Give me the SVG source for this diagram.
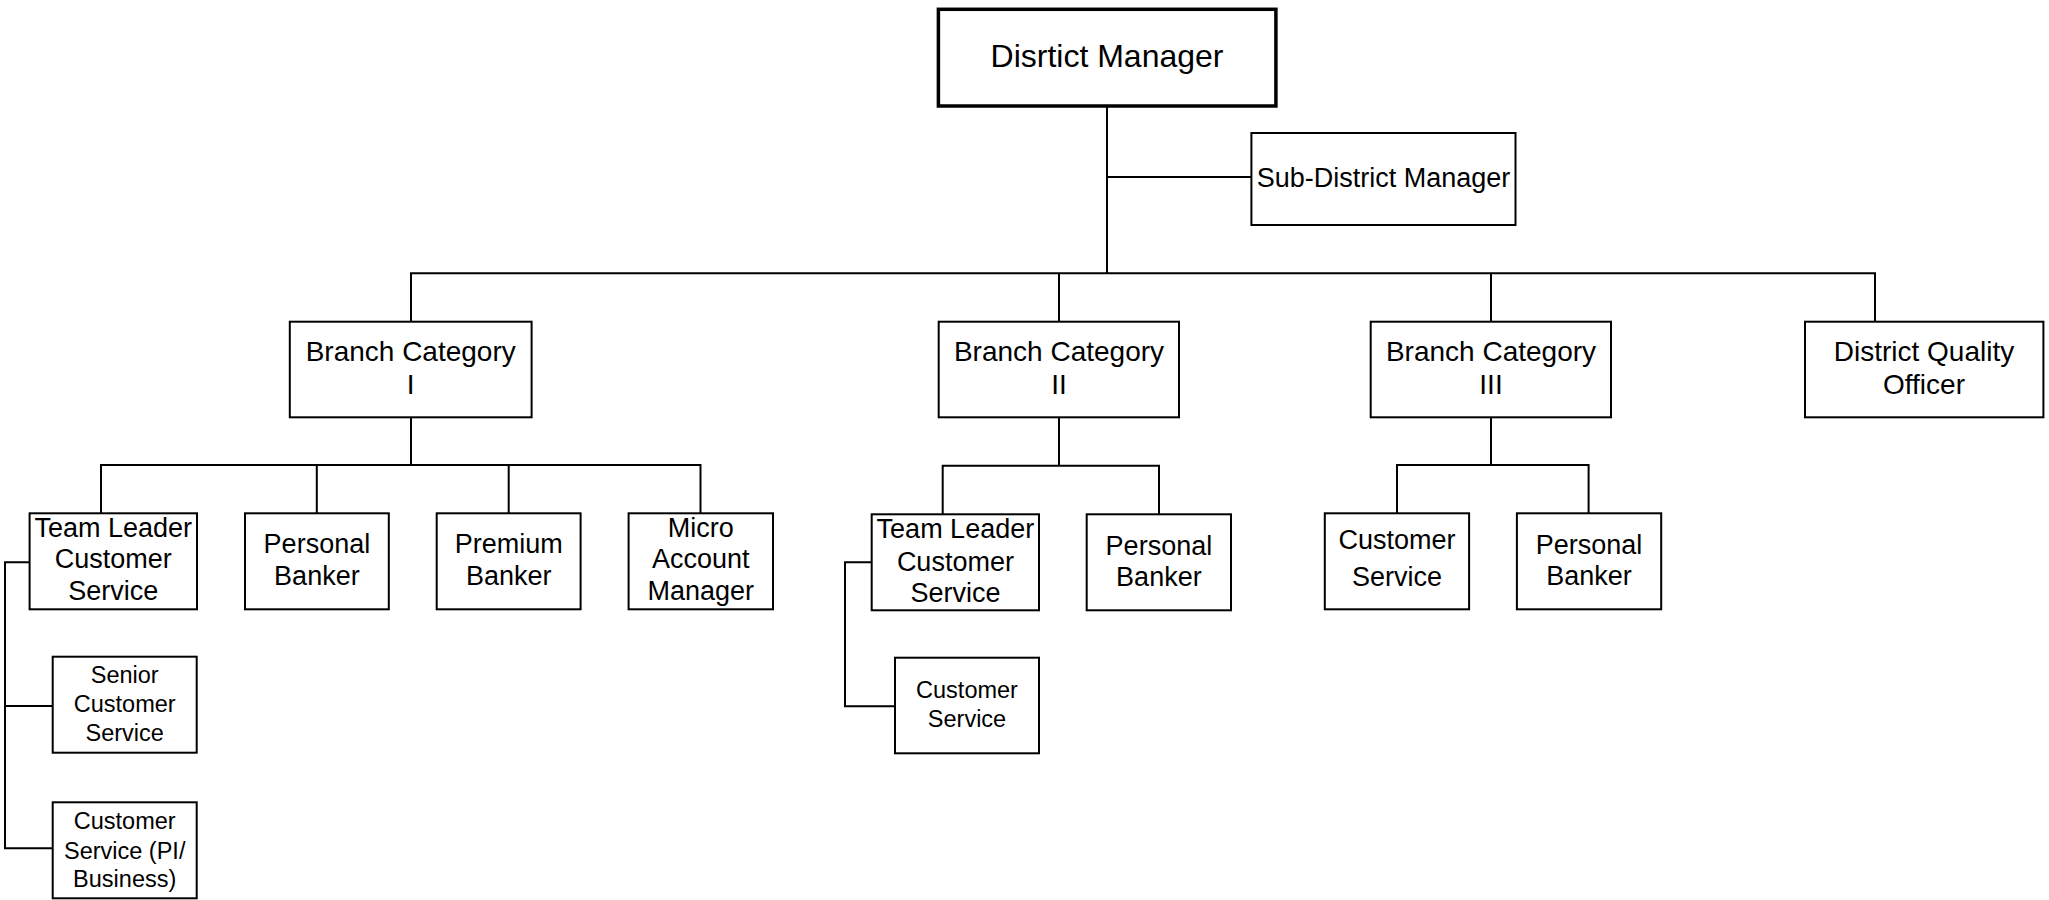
<svg xmlns="http://www.w3.org/2000/svg" width="2049" height="900" viewBox="0 0 2049 900">
<style>
rect{fill:#fff;stroke:#000;stroke-width:2}
rect.top{stroke-width:3.5}
text{font-family:"Liberation Sans",Arial,sans-serif;fill:#000;text-anchor:middle}
.f31{font-size:32px}.f27{font-size:28px}.f26{font-size:27px}.f23{font-size:23.5px}
#connectors path{fill:none;stroke:#000;stroke-width:2}
</style>
<rect x="0" y="0" width="2049" height="900" style="fill:#fff;stroke:none"/>
<g id="connectors">
<path d="M1107,106 V273.3 M1107,177 H1251.4"/>
<path d="M411,321.7 V273.3 H1875 V321.7 M1059,273.3 V321.7 M1491,273.3 V321.7"/>
<path d="M411,417.3 V465 M101,513.3 V465 H700.5 V513.3 M316.8,465 V513.3 M508.7,465 V513.3"/>
<path d="M1059,417.3 V465.7 M942.7,514.3 V465.7 H1159 V514.3"/>
<path d="M1491,417.3 V465 M1397,513.3 V465 H1588.6 V513.3"/>
<path d="M29.6,562.3 H5 V848.3 H52.7 M5,706 H52.7"/>
<path d="M871.7,562.3 H845 V706.3 H895"/>
</g>
<g id="district-manager"><rect class="top" x="938.4" y="9.3" width="337.5" height="96.7"/><text class="f31" x="1107" y="67">Disrtict Manager</text></g>
<g id="sub-district-manager"><rect x="1251.4" y="133" width="264.1" height="92"/><text class="f26" x="1383.5" y="187">Sub-District Manager</text></g>
<g id="branch-cat-1"><rect x="289.8" y="321.7" width="241.8" height="95.6"/><text class="f27" x="410.7" y="360.7">Branch Category</text><text class="f27" x="410.7" y="394.3">I</text></g>
<g id="branch-cat-2"><rect x="938.7" y="321.7" width="240.3" height="95.6"/><text class="f27" x="1059" y="360.7">Branch Category</text><text class="f27" x="1059" y="394.3">II</text></g>
<g id="branch-cat-3"><rect x="1370.7" y="321.7" width="240.3" height="95.6"/><text class="f27" x="1491" y="360.7">Branch Category</text><text class="f27" x="1491" y="394.3">III</text></g>
<g id="district-quality-officer"><rect x="1805" y="321.7" width="238.4" height="95.6"/><text class="f27" x="1924" y="360.7">District Quality</text><text class="f27" x="1924" y="394.3">Officer</text></g>
<g id="tl-cs-1"><rect x="29.6" y="513.3" width="167.4" height="96"/><text class="f26" x="113.3" y="536.7">Team Leader</text><text class="f26" x="113.3" y="568.3">Customer</text><text class="f26" x="113.3" y="600">Service</text></g>
<g id="personal-banker-1"><rect x="245" y="513.3" width="143.8" height="96"/><text class="f26" x="316.9" y="553.3">Personal</text><text class="f26" x="316.9" y="585">Banker</text></g>
<g id="premium-banker-1"><rect x="436.7" y="513.3" width="143.9" height="96"/><text class="f26" x="508.7" y="553.3">Premium</text><text class="f26" x="508.7" y="585">Banker</text></g>
<g id="micro-account-manager-1"><rect x="628.6" y="513.3" width="144.4" height="96"/><text class="f26" x="700.8" y="536.7">Micro</text><text class="f26" x="700.8" y="568.3">Account</text><text class="f26" x="700.8" y="600">Manager</text></g>
<g id="senior-cs-1"><rect x="52.7" y="656.7" width="144" height="96"/><text class="f23" x="124.7" y="683.3">Senior</text><text class="f23" x="124.7" y="712.3">Customer</text><text class="f23" x="124.7" y="740.7">Service</text></g>
<g id="cs-pi-business-1"><rect x="52.7" y="802.3" width="144" height="96"/><text class="f23" x="124.7" y="829.3">Customer</text><text class="f23" x="124.7" y="858.7">Service (PI/</text><text class="f23" x="124.7" y="887.3">Business)</text></g>
<g id="tl-cs-2"><rect x="871.7" y="514.3" width="167.3" height="96"/><text class="f26" x="955.4" y="538.3">Team Leader</text><text class="f26" x="955.4" y="570.7">Customer</text><text class="f26" x="955.4" y="601.7">Service</text></g>
<g id="personal-banker-2"><rect x="1086.7" y="514.3" width="144.3" height="96"/><text class="f26" x="1158.9" y="555">Personal</text><text class="f26" x="1158.9" y="586">Banker</text></g>
<g id="cs-2"><rect x="895" y="657.7" width="144" height="95.6"/><text class="f23" x="967" y="698.3">Customer</text><text class="f23" x="967" y="726.7">Service</text></g>
<g id="cs-3"><rect x="1324.8" y="513.3" width="144.3" height="96"/><text class="f26" x="1397" y="549.3">Customer</text><text class="f26" x="1397" y="585.7">Service</text></g>
<g id="personal-banker-3"><rect x="1516.9" y="513.3" width="144.3" height="96"/><text class="f26" x="1589" y="554">Personal</text><text class="f26" x="1589" y="585">Banker</text></g>
</svg>
